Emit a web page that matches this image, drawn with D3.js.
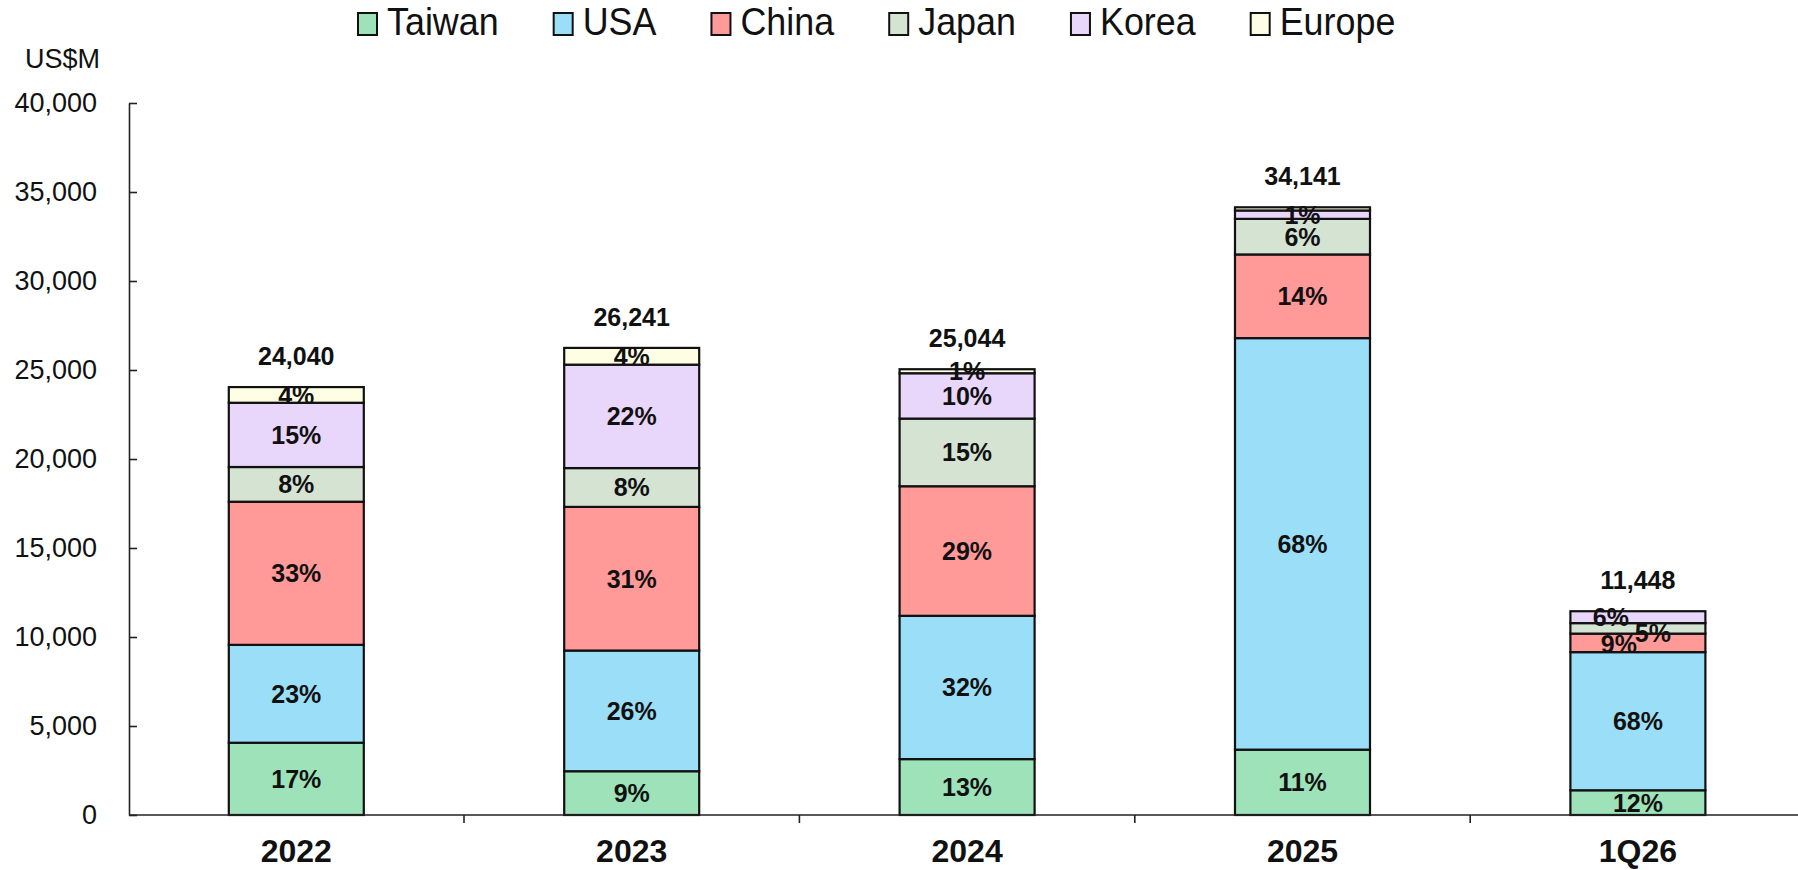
<!DOCTYPE html>
<html>
<head>
<meta charset="utf-8">
<script src="https://cdn.jsdelivr.net/npm/d3@7"></script>
<style>
  html, body { margin: 0; padding: 0; background: #ffffff; }
  svg { display: block; font-family: "Liberation Sans", Arial, sans-serif; }
</style>
</head>
<body>
<svg id="chart" width="1798" height="870"></svg>
<script>
// ---- data ----
const categories = ["2022", "2023", "2024", "2025", "1Q26"];
const seriesNames = ["Taiwan", "USA", "China", "Japan", "Korea", "Europe"];
const taiwan = [4060, 2460, 3140, 3671, 1390];
const usa    = [5500, 6780, 8050, 23120, 7760];
const china  = [8040, 8070, 7280, 4700, 1040];
const japan  = [1950, 2180, 3800, 2000, 590];
const korea  = [3610, 5810, 2549, 470, 668];
const europe = [880, 941, 225, 180, 0];
const totals = [24040, 26241, 25044, 34141, 11448];
const taiwanPct = ["17%", "9%", "13%", "11%", "12%"];
const usaPct    = ["23%", "26%", "32%", "68%", "68%"];
const chinaPct  = ["33%", "31%", "29%", "14%", "9%"];
const japanPct  = ["8%", "8%", "15%", "6%", "5%"];
const koreaPct  = ["15%", "22%", "10%", "1%", "6%"];
const europePct = ["4%", "4%", "1%", null, null];
const yTicks = [0, 5000, 10000, 15000, 20000, 25000, 30000, 35000, 40000];
const colors = ["#9de2b9", "#9bdef8", "#ff9a98", "#d5e3d3", "#e9d6fb", "#fefee4"];

const seriesValues = [taiwan, usa, china, japan, korea, europe];
const seriesPcts = [taiwanPct, usaPct, chinaPct, japanPct, koreaPct, europePct];

// label nudges for crowded small segments (series index, category index) -> [dx, dy]
const nudges = { "4-4": [-27, 0], "3-4": [15, 5], "2-4": [-19, 1] };

// ---- build table ----
const table = categories.map((c, i) => {
  const row = { cat: c, total: totals[i] };
  seriesNames.forEach((s, k) => row[s] = seriesValues[k][i]);
  return row;
});
const stacked = d3.stack().keys(seriesNames)(table);

const svg = d3.select("#chart");
const font = '"Liberation Sans", Arial, sans-serif';

const y = d3.scaleLinear().domain([0, 40000]).range([815, 103]);
const x = d3.scaleBand().domain(categories).range([128.6, 128.6 + 335.4 * 5])
  .paddingInner(0.5975).paddingOuter(0.29875);

// ---- y axis ----
const yAxis = d3.axisLeft(y).tickValues(yTicks).tickFormat(d3.format(","))
  .tickSizeInner(-8).tickSizeOuter(0).tickPadding(32);
const yg = svg.append("g").attr("transform", "translate(129,0)").call(yAxis);
yg.select(".domain").attr("stroke", "#222").attr("stroke-width", 1.6);
yg.selectAll(".tick line").attr("stroke", "#222").attr("stroke-width", 1.6);
yg.selectAll(".tick text").attr("font-size", 27).attr("font-family", font).attr("fill", "#111");

svg.append("text").attr("x", 25).attr("y", 68).attr("font-size", 27)
  .attr("font-family", font).attr("fill", "#111").text("US$M");

// ---- bars ----
const layers = svg.append("g").selectAll("g").data(stacked).join("g")
  .attr("fill", (d, k) => colors[k]);
layers.selectAll("rect").data(d => d).join("rect")
  .attr("x", d => x(d.data.cat))
  .attr("width", x.bandwidth())
  .attr("y", d => y(d[1]))
  .attr("height", d => Math.max(0, y(d[0]) - y(d[1])))
  .attr("stroke", "#111").attr("stroke-width", 2.2)
  .attr("display", d => (d[1] - d[0]) > 0 ? null : "none");

// ---- x axis ----
svg.append("line").attr("x1", 129).attr("x2", 1798).attr("y1", 815).attr("y2", 815)
  .attr("stroke", "#222").attr("stroke-width", 1.6);
const bounds = d3.range(1, categories.length).map(i => x.range()[0] + x.step() * i);
svg.append("g").selectAll("line").data(bounds).join("line")
  .attr("x1", d => d).attr("x2", d => d).attr("y1", 815).attr("y2", 823)
  .attr("stroke", "#222").attr("stroke-width", 1.6);
svg.append("g").selectAll("text").data(categories).join("text")
  .attr("x", d => x(d) + x.bandwidth() / 2).attr("y", 862)
  .attr("text-anchor", "middle").attr("font-size", 32).attr("font-weight", "bold")
  .attr("font-family", font).attr("fill", "#111").text(d => d);

// ---- percent labels ----
const lbl = svg.append("g");
stacked.forEach((layer, k) => {
  layer.forEach((d, i) => {
    const t = seriesPcts[k][i];
    if (!t) return;
    const n = nudges[k + "-" + i] || [0, 0];
    lbl.append("text")
      .attr("x", x(d.data.cat) + x.bandwidth() / 2 + n[0])
      .attr("y", (y(d[0]) + y(d[1])) / 2 + n[1])
      .attr("dy", "0.36em")
      .attr("text-anchor", "middle").attr("font-size", 25).attr("font-weight", "bold")
      .attr("font-family", font).attr("fill", "#111").text(t);
  });
});

// ---- totals ----
svg.append("g").selectAll("text").data(table).join("text")
  .attr("x", d => x(d.cat) + x.bandwidth() / 2)
  .attr("y", d => y(d.total) - 22)
  .attr("text-anchor", "middle").attr("font-size", 25).attr("font-weight", "bold")
  .attr("font-family", font).attr("fill", "#111").text(d => d3.format(",")(d.total));

// ---- legend ----
const leg = svg.append("g");
let lx = 358;
seriesNames.forEach((s, k) => {
  leg.append("rect").attr("x", lx).attr("y", 13).attr("width", 19).attr("height", 22)
    .attr("fill", colors[k]).attr("stroke", "#111").attr("stroke-width", 2);
  const t = leg.append("text")
    .attr("transform", `translate(${lx + 29},35) scale(0.92,1)`)
    .attr("font-size", 39).attr("font-family", font).attr("fill", "#111").text(s);
  const w = t.node().getComputedTextLength() * 0.92;
  lx += 29 + w + 55;
});
</script>
</body>
</html>
